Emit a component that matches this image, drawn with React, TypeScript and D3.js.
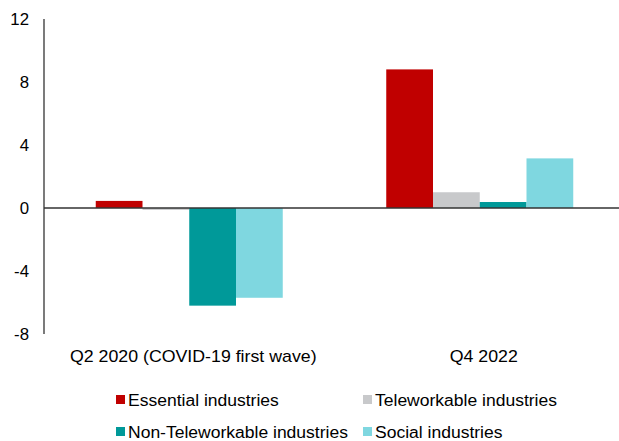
import React from "react";
import * as d3 from "d3";

const categories = ["Q2 2020 (COVID-19 first wave)", "Q4 2022"];
const seriesNames = ["Essential industries", "Teleworkable industries", "Non-Teleworkable industries", "Social industries"];
const essential = [0.45, 8.8];
const teleworkable = [-0.12, 1.0];
const nonTeleworkable = [-6.2, 0.38];
const social = [-5.7, 3.15];
const yTicks = [-8, -4, 0, 4, 8, 12];
const colors = ["#C00000", "#C8C9CB", "#009999", "#7FD7E0"];

const W = 619;
const H = 441;

function T(props: { x: number; y: number; sx: number; anchor?: string; children: React.ReactNode; fs?: number }) {
  return (
    <text
      transform={`translate(${props.x},${props.y}) scale(${props.sx},1)`}
      dy="0.35em"
      textAnchor={props.anchor || "start"}
      fontSize={props.fs || 16}
      fill="#000"
    >
      {props.children}
    </text>
  );
}

export default function App() {
  const series = [essential, teleworkable, nonTeleworkable, social];
  const y = d3.scaleLinear().domain([-8, 12]).range([334, 19]);
  const x0 = d3.scaleBand<string>().domain(categories).range([44, 625]).paddingInner(0).paddingOuter(0);
  const groupW = 187;
  const x1 = d3.scaleBand<number>().domain([0, 1, 2, 3]).range([0, groupW]).padding(0);
  const font = "Liberation Sans, Arial, sans-serif";
  const legendPos = [
    { x: 116, y: 400 },
    { x: 363, y: 400 },
    { x: 116, y: 432 },
    { x: 363, y: 432 },
  ];
  return (
    <svg width={W} height={H} style={{ position: "absolute", left: 0, top: 0, background: "#fff" }} fontFamily={font}>
      {yTicks.map((t) => (
        <T key={t} x={29} y={y(t)} sx={1.05} anchor="end">
          {t}
        </T>
      ))}
      {categories.map((c, ci) => {
        const gx = (x0(c) as number) + (x0.bandwidth() - groupW) / 2;
        return (
          <g key={c}>
            {series.map((s, si) => {
              const v = s[ci];
              const yt = y(Math.max(0, v));
              const yb = y(Math.min(0, v));
              return (
                <rect
                  key={si}
                  x={gx + (x1(si) as number)}
                  y={yt}
                  width={x1.bandwidth()}
                  height={Math.max(0.5, yb - yt)}
                  fill={colors[si]}
                />
              );
            })}
            <T x={(x0(c) as number) + x0.bandwidth() / 2 + 4} y={356} sx={1.11} anchor="middle">
              {c}
            </T>
          </g>
        );
      })}
      <line x1={44} x2={619} y1={y(0)} y2={y(0)} stroke="#333" strokeWidth={1.3} />
      <line x1={44} x2={44} y1={19} y2={334} stroke="#333" strokeWidth={1.3} />
      {seriesNames.map((n, i) => (
        <g key={n}>
          <rect x={legendPos[i].x} y={legendPos[i].y - 5} width={9} height={9} fill={colors[i]} />
          <T x={legendPos[i].x + 12} y={legendPos[i].y} sx={1.095}>
            {n}
          </T>
        </g>
      ))}
    </svg>
  );
}
